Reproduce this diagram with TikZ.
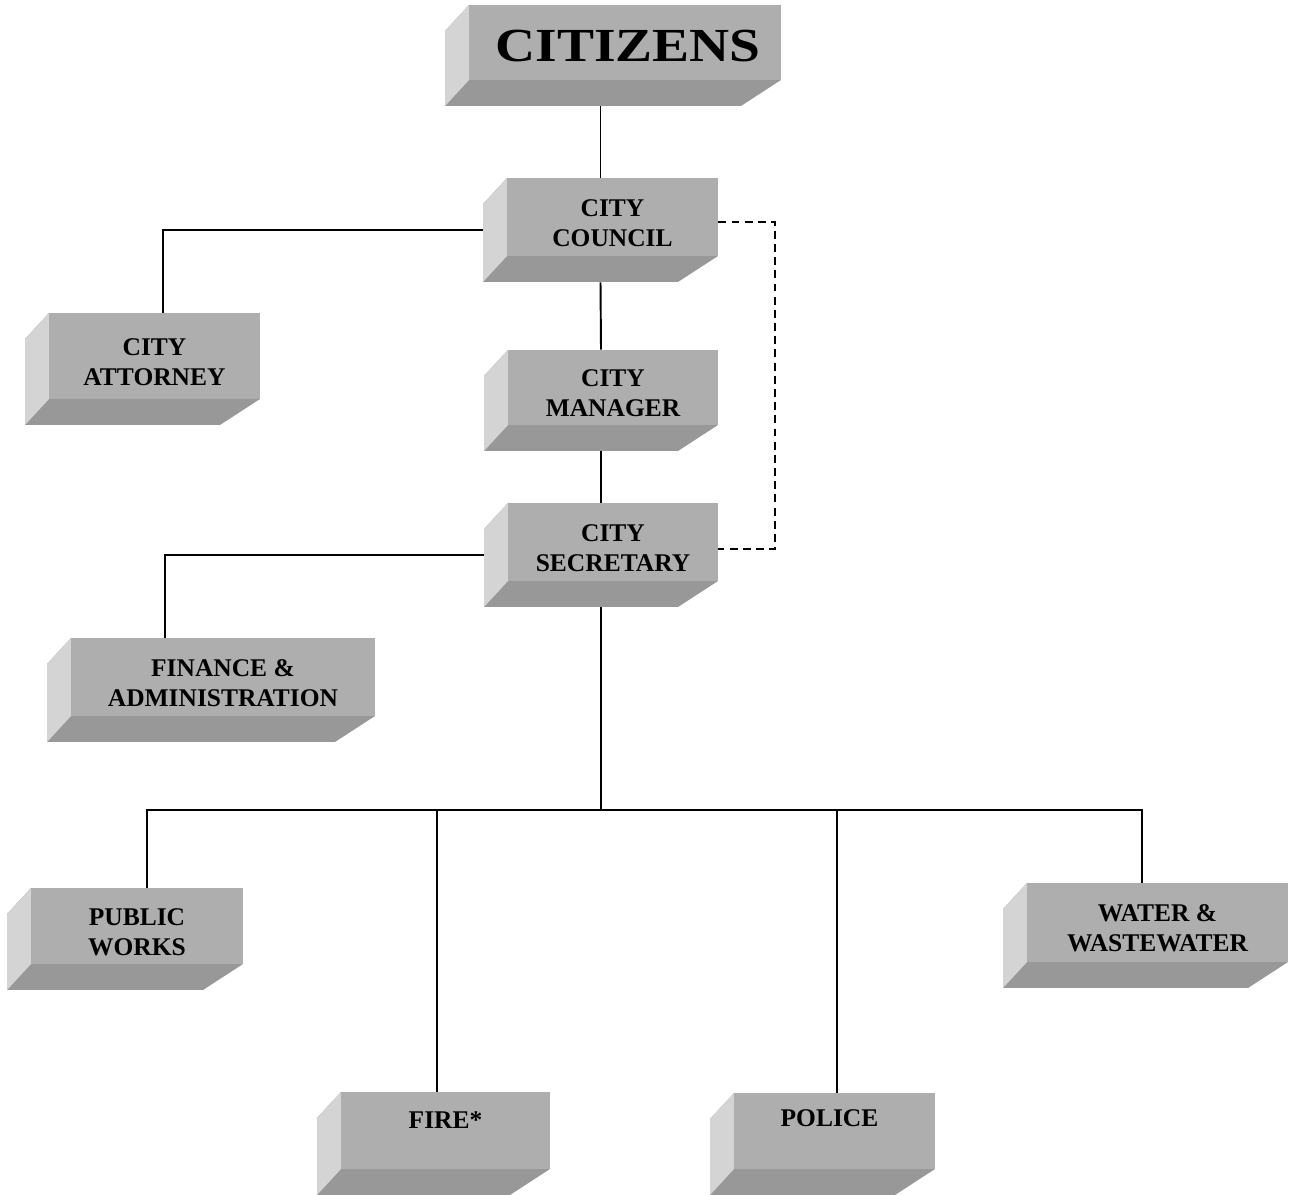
\documentclass[tikz,border=0pt]{standalone}
\usepackage{fontspec}
\setmainfont{Liberation Serif}
\usepackage{graphicx}
\usetikzlibrary{calc}

\definecolor{boxfront}{RGB}{174,174,174}
\definecolor{boxleft}{RGB}{212,212,212}
\definecolor{boxbottom}{RGB}{152,152,152}

\tikzset{
  boxshape/.style={inner sep=0pt, fill=white, path picture={
      \coordinate (bnw) at (path picture bounding box.north west);
      \coordinate (bne) at (path picture bounding box.north east);
      \coordinate (bsw) at (path picture bounding box.south west);
      \coordinate (bse) at (path picture bounding box.south east);
      % block with its darker underside
      \fill[boxbottom] ($(bnw)+(0.48cm,0)$) -- (bne) -- ($(bse)+(0,0.52cm)$)
        -- ($(bse)+(-0.8cm,0)$) -- (bsw) -- ($(bnw)+(0,-0.52cm)$) -- cycle;
      % left side
      \fill[boxleft] ($(bnw)+(0,-0.52cm)$) -- ($(bnw)+(0.48cm,0)$)
        -- ($(bsw)+(0.48cm,0.52cm)$) -- (bsw) -- cycle;
      % front face
      \fill[boxfront] ($(bnw)+(0.48cm,0)$) rectangle ($(bse)+(0,0.52cm)$);
  }},
  boxtext/.style={align=center, inner sep=0pt, font=\fontsize{14.5}{17}\selectfont\bfseries},
  link/.style={line width=1.1pt},
}

\begin{document}
\begin{tikzpicture}[x=0.02cm, y=-0.02cm]
    \useasboundingbox (0,0) rectangle (1297,1195);

    % Nodes
    \node[boxshape, minimum width=6.72cm, minimum height=2.02cm] (citizens) at (613,55.5) {};
    \node[boxtext, font=\fontsize{27}{30}\selectfont\bfseries] (citizens-txt) at ([xshift=0.3cm,yshift=0.19cm]citizens.center) {\scalebox{1.17}[1]{CITIZENS}};

    \node[boxshape, minimum width=4.70cm, minimum height=2.08cm] (council) at (600.5,230) {};
    \node[boxtext] (council-txt) at ([xshift=0.24cm,yshift=0.14cm]council.center) {CITY\\COUNCIL};

    \node[boxshape, minimum width=4.70cm, minimum height=2.24cm] (attorney) at (142.5,369) {};
    \node[boxtext] (attorney-txt) at ([xshift=0.24cm,yshift=0.14cm]attorney.center) {CITY\\ATTORNEY};

    \node[boxshape, minimum width=4.68cm, minimum height=2.02cm] (manager) at (601,400.5) {};
    \node[boxtext] (manager-txt) at ([xshift=0.24cm,yshift=0.14cm]manager.center) {CITY\\MANAGER};

    \node[boxshape, minimum width=4.68cm, minimum height=2.08cm] (secretary) at (601,555) {};
    \node[boxtext] (secretary-txt) at ([xshift=0.24cm,yshift=0.14cm]secretary.center) {CITY\\SECRETARY};

    \node[boxshape, minimum width=6.56cm, minimum height=2.08cm] (finance) at (211,690) {};
    \node[boxtext] (finance-txt) at ([xshift=0.24cm,yshift=0.14cm]finance.center) {FINANCE \&\\ADMINISTRATION};

    \node[boxshape, minimum width=4.72cm, minimum height=2.04cm] (works) at (125,939) {};
    \node[boxtext] (works-txt) at ([xshift=0.24cm,yshift=0.14cm]works.center) {PUBLIC\\WORKS};

    \node[boxshape, minimum width=5.70cm, minimum height=2.10cm] (water) at (1145.5,935.5) {};
    \node[boxtext] (water-txt) at ([xshift=0.24cm,yshift=0.14cm]water.center) {WATER \&\\WASTEWATER};

    \node[boxshape, minimum width=4.66cm, minimum height=2.06cm] (fire) at (433.5,1143.5) {};
    \node[boxtext] (fire-txt) at ([xshift=0.24cm,yshift=-0.56cm]fire.north) {FIRE*};

    \node[boxshape, minimum width=4.50cm, minimum height=2.04cm] (police) at (822.5,1144) {};
    \node[boxtext] (police-txt) at ([xshift=0.14cm,yshift=-0.52cm]police.north) {POLICE};

    \coordinate (bus) at (601,810);

    % Edges
    \draw[link] (citizens.south -| council.north) -- (council.north);
    \draw[link] (council.south) -- (manager.north);
    \draw[link] (manager.south) -- (secretary.north);
    \draw[link] (council.west) -| ([xshift=0.41cm]attorney.north);
    \draw[link] (secretary.west) -| ([xshift=-0.92cm]finance.north);
    \draw[link, dash pattern=on 4.5pt off 3pt] ([yshift=0.16cm]council.east) -- ++(57,0) |- ([yshift=0.12cm]secretary.east);
    \draw[link] (secretary.south) -- (bus);
    \draw[link] ([xshift=0.44cm]works.north) |- (bus) -| ([xshift=-0.07cm]water.north);
    \draw[link] ([xshift=0.07cm]fire.north) |- (bus);
    \draw[link] ([xshift=0.29cm]police.north) |- (bus);
\end{tikzpicture}
\end{document}
